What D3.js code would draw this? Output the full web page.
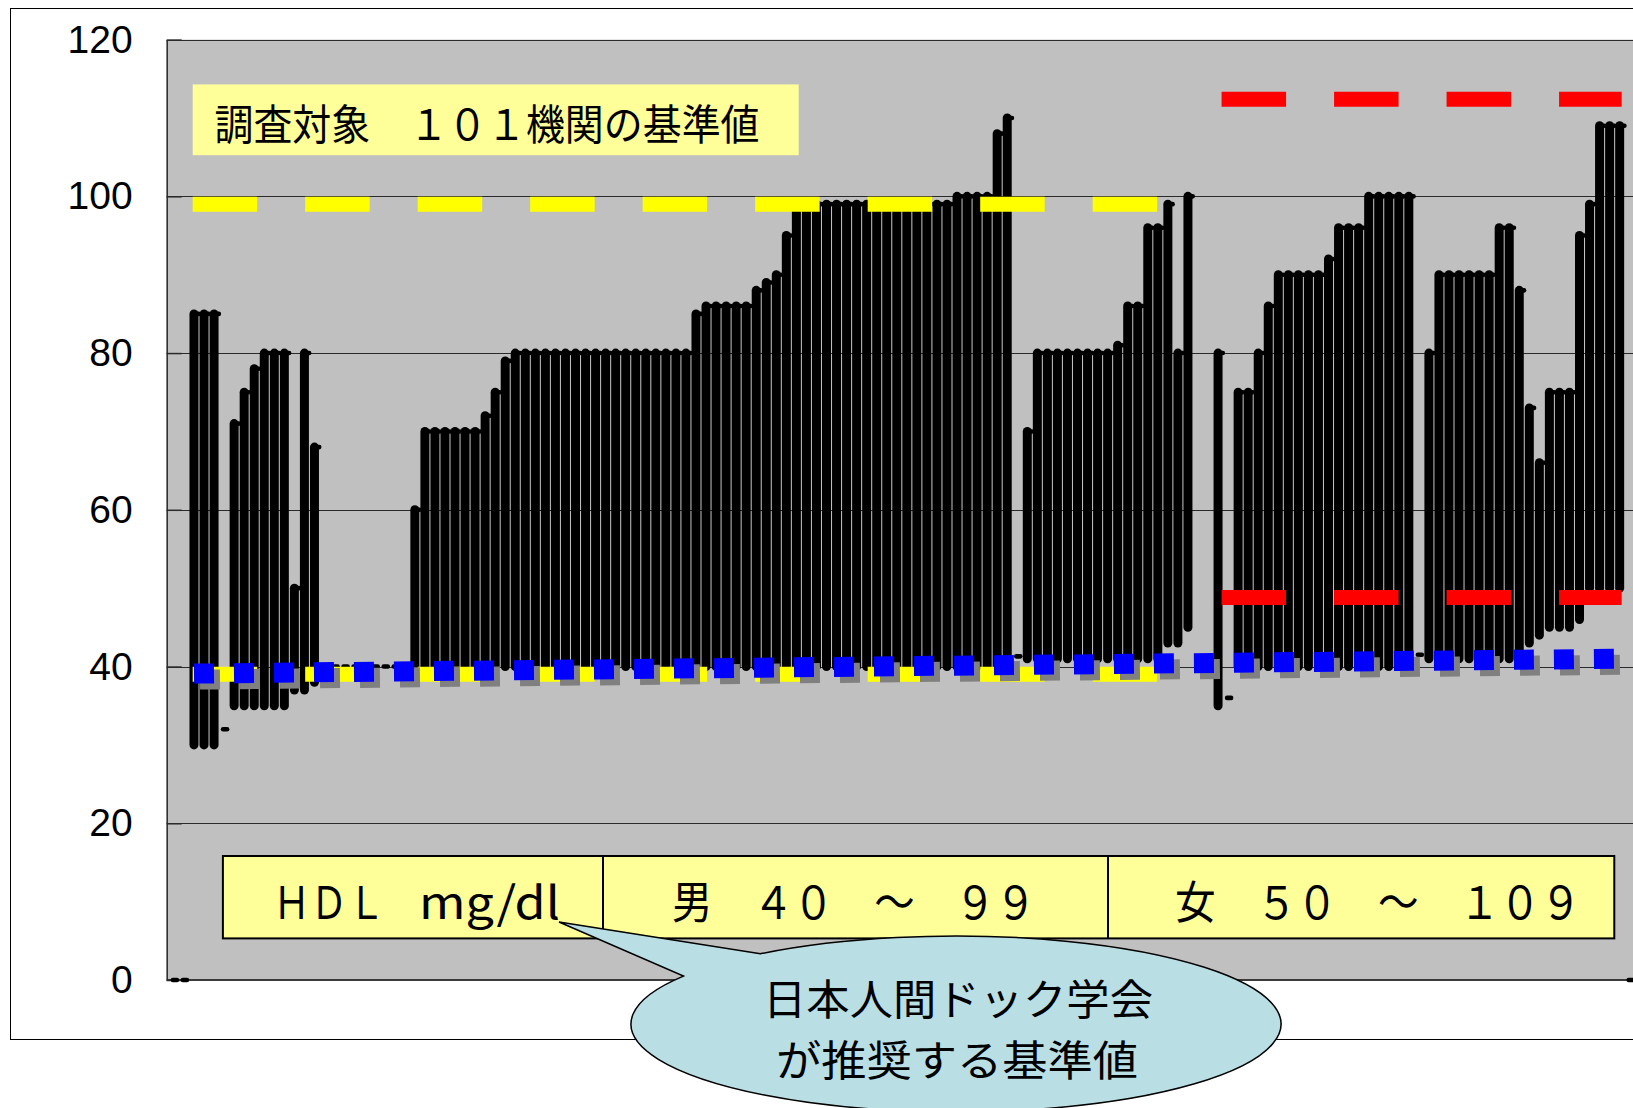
<!DOCTYPE html>
<html>
<head>
<meta charset="utf-8">
<script src="https://cdn.jsdelivr.net/npm/d3@7"></script>
<style>
  html, body { margin: 0; padding: 0; background: #fff; }
  svg { display: block; }
</style>
</head>
<body>
<svg id="chart" width="1633" height="1108"></svg>
<script>
// ---- data -------------------------------------------------------------
// Y axis ticks (HDL, mg/dl)
const yTicks = [0, 20, 40, 60, 80, 100, 120];

// Reference range of each institution, one slot per position on the x axis
// (null = empty slot). Slots 2-101: men, 104-144: women.
const lowValues = [
  0, 0,
  30, 30, 30, 32, 35, 35, 35, 35, 35, 35,
  37, 37, 38, 40, 40, 40, 40, 40, 40, 40,
  40, 40, 40, 40, 40, 40, 40, 40, 40, 40,
  40, 40, 40, 40, 40, 40, 40, 40, 40, 40,
  40, 40, 40, 40, 40, 40, 40, 40, 40, 40,
  40, 40, 40, 40, 40, 40, 40, 40, 40, 40,
  40, 40, 40, 40, 40, 40, 40, 40, 40, 40,
  40, 40, 40, 40, 40, 40, 40, 40, 40, 40,
  40, 40, 41.3, 41, 41, 41, 41, 41, 41, 41,
  41, 41, 41, 41, 41, 41, 41, 43, 43, 45,
  null, null,
  35, 36, 40, 40, 40, 40, 40, 40, 40, 40,
  40, 40, 40, 40, 40, 40, 40, 40, 40, 40,
  41.5, 41, 41, 41, 41, 41, 41, 41, 41, 41,
  41, 43, 44, 45, 45, 45, 46, 50, 50, 50,
  50, 0
];
const highValues = [
  0, 0,
  85, 85, 85, 32, 71, 75, 78, 80, 80, 80,
  50, 80, 68, 40, 40, 40, 40, 40, 40, 40,
  40, 40, 60, 70, 70, 70, 70, 70, 70, 72,
  75, 79, 80, 80, 80, 80, 80, 80, 80, 80,
  80, 80, 80, 80, 80, 80, 80, 80, 80, 80,
  85, 86, 86, 86, 86, 86, 88, 89, 90, 95,
  99, 99, 99, 99, 99, 99, 99, 99, 99, 99,
  99, 99, 99, 99, 99, 99, 100, 100, 100, 100,
  108, 110, 41.3, 70, 80, 80, 80, 80, 80, 80,
  80, 80, 81, 86, 86, 96, 96, 99, 80, 100,
  null, null,
  80, 36, 75, 75, 80, 86, 90, 90, 90, 90,
  90, 92, 96, 96, 96, 100, 100, 100, 100, 100,
  41.5, 80, 90, 90, 90, 90, 90, 90, 96, 96,
  88, 73, 66, 75, 75, 75, 95, 99, 109, 109,
  109, 0
];

// Guide lines: values and the slot span they cover
const maleGuideValues = [39, 99];
const maleGuideSpan = [1.87, 98];
const femaleGuideValues = [48.8, 112.4];
const femaleGuideSpan = [104.35, 144.2];
const recommendedLine = [[2, 39.1], [144, 41.0]];

// Texts
const titleText = "調査対象　１０１機関の基準値";
const unitLabel = ["ＨＤＬ", "mg/dl"];
const rangeLabels = ["男　４０　～　９９", "女　５０　～　１０９"];
const calloutLines = ["日本人間ドック学会", "が推奨する基準値"];

// ---- layout -----------------------------------------------------------
const svg = d3.select("#chart");
const plot = { left: 166.7, top: 39.6, right: 1660, bottom: 980 };
const x = d3.scaleLinear().domain([0, 145]).range([173.9, 1629.7]);
const y = d3.scaleLinear().domain([0, 120]).range([plot.bottom, plot.top]);

const cjk = "'Noto Sans CJK JP', 'Noto Sans', sans-serif";

// chart frame
svg.append("rect")
  .attr("x", 10.5).attr("y", 8.5)
  .attr("width", 1700).attr("height", 1031)
  .attr("fill", "#fff").attr("stroke", "#000").attr("stroke-width", 1);

// plot area
svg.append("rect")
  .attr("x", plot.left).attr("y", plot.top)
  .attr("width", plot.right - plot.left).attr("height", plot.bottom - plot.top)
  .attr("fill", "#c0c0c0");

// horizontal gridlines
svg.append("g")
  .selectAll("line")
  .data(yTicks.filter(d => d > 0))
  .join("line")
  .attr("x1", plot.left).attr("x2", plot.right)
  .attr("y1", d => Math.round(y(d)) + 0.5)
  .attr("y2", d => Math.round(y(d)) + 0.5)
  .attr("stroke", "#2a2a2a").attr("stroke-width", 1);

// category axis line
svg.append("line")
  .attr("x1", plot.left).attr("x2", plot.right)
  .attr("y1", plot.bottom).attr("y2", plot.bottom)
  .attr("stroke", "#3a3a3a").attr("stroke-width", 2);

// value axis
const yAxis = d3.axisLeft(y)
  .tickValues(yTicks)
  .tickFormat(d3.format("d"))
  .tickSizeInner(-15)
  .tickSizeOuter(0)
  .tickPadding(34);

const gAxis = svg.append("g")
  .attr("transform", `translate(${plot.left},0)`)
  .call(yAxis);
gAxis.select(".domain").attr("stroke", "#2a2a2a").attr("stroke-width", 1.5);
gAxis.selectAll(".tick line").attr("stroke", "#2a2a2a").attr("stroke-width", 1.5);
gAxis.selectAll(".tick text")
  .attr("fill", "#000")
  .attr("font-family", "'Liberation Sans', Arial, sans-serif")
  .attr("font-size", 39);

// ---- range bars (high-low with close tick) ----------------------------
const slots = highValues.map((h, i) => ({ i, lo: lowValues[i], hi: h }))
  .filter(d => d.hi !== null && d.lo !== null);

const gBars = svg.append("g");
gBars.selectAll("line.range")
  .data(slots.filter(d => d.hi > d.lo))
  .join("line")
  .attr("class", "range")
  .attr("x1", d => x(d.i)).attr("x2", d => x(d.i))
  .attr("y1", d => y(d.lo)).attr("y2", d => y(d.hi))
  .attr("stroke", "#000").attr("stroke-width", 9)
  .attr("stroke-linecap", "round");

gBars.selectAll("line.close")
  .data(slots)
  .join("line")
  .attr("class", "close")
  .attr("x1", d => x(d.i) + (d.hi > d.lo ? 0 : -1))
  .attr("x2", d => x(d.i) + (d.hi > d.lo ? 4.75 : 3))
  .attr("y1", d => y(d.hi)).attr("y2", d => y(d.hi))
  .attr("stroke", "#000").attr("stroke-width", 4.6)
  .attr("stroke-linecap", "round");

// ---- guide lines ------------------------------------------------------
function guide(values, span, color) {
  svg.append("g")
    .selectAll("line")
    .data(values)
    .join("line")
    .attr("x1", x(span[0])).attr("x2", x(span[1]))
    .attr("y1", d => y(d)).attr("y2", d => y(d))
    .attr("stroke", color).attr("stroke-width", 15)
    .attr("stroke-dasharray", "64.5 48");
}
guide(maleGuideValues, maleGuideSpan, "#ffff00");
guide(femaleGuideValues, femaleGuideSpan, "#ff0000");

// recommended level: square-dot line with drop shadow
const line = d3.line().x(d => x(d[0])).y(d => y(d[1]));
svg.append("path")
  .attr("d", line(recommendedLine))
  .attr("transform", "translate(6,6)")
  .attr("fill", "none").attr("stroke", "#808080")
  .attr("stroke-width", 20).attr("stroke-dasharray", "20 20");
svg.append("path")
  .attr("d", line(recommendedLine))
  .attr("fill", "none").attr("stroke", "#0000ff")
  .attr("stroke-width", 20).attr("stroke-dasharray", "20 20");

// ---- title box --------------------------------------------------------
svg.append("rect")
  .attr("x", 192.7).attr("y", 84.4).attr("width", 606).attr("height", 70.8)
  .attr("fill", "#ffff99");
svg.append("text")
  .attr("x", 214.5).attr("y", 121)
  .attr("dominant-baseline", "central")
  .attr("font-family", cjk).attr("font-size", 42)
  .attr("textLength", 545).attr("lengthAdjust", "spacingAndGlyphs")
  .text(titleText);

// ---- range legend box -------------------------------------------------
const boxDividers = [603, 1108];
svg.append("rect")
  .attr("x", 222.9).attr("y", 856).attr("width", 1614.3 - 222.9).attr("height", 82.4)
  .attr("fill", "#ffff99").attr("stroke", "#000").attr("stroke-width", 2);
svg.append("g").selectAll("line")
  .data(boxDividers)
  .join("line")
  .attr("x1", d => d).attr("x2", d => d)
  .attr("y1", 856).attr("y2", 938.4)
  .attr("stroke", "#000").attr("stroke-width", 2);

// unit cell
const unitSpans = [[273, 385], [419, 560]];
const unitText = svg.append("text")
  .attr("y", 899)
  .attr("dominant-baseline", "central")
  .attr("font-family", cjk).attr("font-size", 45);
unitText.selectAll("tspan")
  .data(unitLabel)
  .join("tspan")
  .attr("x", (d, i) => unitSpans[i][0])
  .attr("textLength", (d, i) => unitSpans[i][1] - unitSpans[i][0])
  .attr("lengthAdjust", "spacingAndGlyphs")
  .text(d => d);

// range cells
const labelSpans = [[672, 1036], [1175, 1581]];
svg.append("g").selectAll("text")
  .data(rangeLabels)
  .join("text")
  .attr("x", (d, i) => labelSpans[i][0])
  .attr("y", 899)
  .attr("dominant-baseline", "central")
  .attr("font-family", cjk).attr("font-size", 45)
  .attr("textLength", (d, i) => labelSpans[i][1] - labelSpans[i][0])
  .attr("lengthAdjust", "spacingAndGlyphs")
  .text(d => d);

// ---- callout ----------------------------------------------------------
const ell = { cx: 956, cy: 1024, rx: 325, ry: 88 };
const tip = [559, 922];
const angL = -147 * Math.PI / 180, angR = -127 * Math.PI / 180;
const pL = [ell.cx + ell.rx * Math.cos(angL), ell.cy + ell.ry * Math.sin(angL)];
const pR = [ell.cx + ell.rx * Math.cos(angR), ell.cy + ell.ry * Math.sin(angR)];
svg.append("path")
  .attr("d", `M${pR[0]},${pR[1]} A${ell.rx},${ell.ry} 0 1 1 ${pL[0]},${pL[1]} L${tip[0]},${tip[1]} Z`)
  .attr("fill", "#b9dfe4").attr("stroke", "#000").attr("stroke-width", 1.5)
  .attr("stroke-linejoin", "miter");

const calloutSpans = [[763, 1153], [776, 1138]];
const calloutY = [996, 1057];
svg.append("g").selectAll("text")
  .data(calloutLines)
  .join("text")
  .attr("x", (d, i) => calloutSpans[i][0])
  .attr("y", (d, i) => calloutY[i])
  .attr("dominant-baseline", "central")
  .attr("font-family", cjk).attr("font-size", 42)
  .attr("textLength", (d, i) => calloutSpans[i][1] - calloutSpans[i][0])
  .attr("lengthAdjust", "spacingAndGlyphs")
  .text(d => d);
</script>
</body>
</html>
